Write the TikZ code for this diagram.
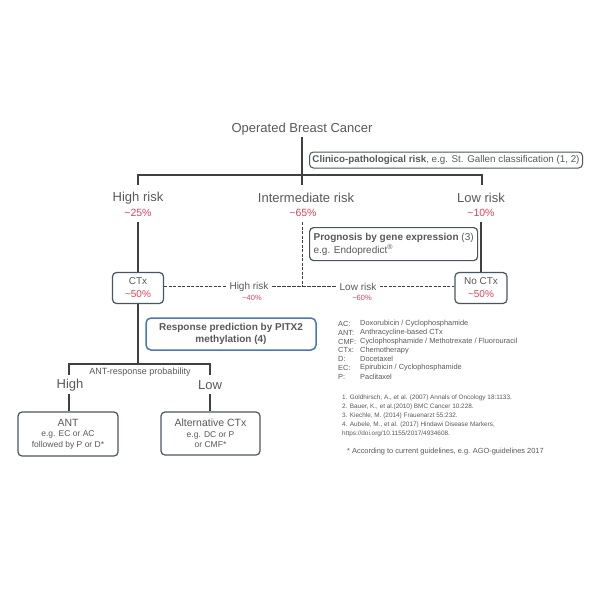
\documentclass[tikz,border=0pt]{standalone}
\usepackage{fontspec}
\setmainfont{Liberation Sans}
\definecolor{txt}{HTML}{595959}
\definecolor{lnc}{HTML}{404040}
\definecolor{bx}{HTML}{4A5560}
\definecolor{bl}{HTML}{4A78B0}
\definecolor{rd}{HTML}{D9455A}
\begin{document}
\begin{tikzpicture}[x=1pt,y=-1pt,
  every node/.style={text=txt,inner sep=0pt},
  ttl/.style={font=\fontsize{13}{15}\selectfont},
  pct/.style={font=\fontsize{10.5}{12}\selectfont,text=rd},
  spct/.style={font=\fontsize{7.5}{9}\selectfont,text=rd},
  mlbl/.style={font=\fontsize{10}{12}\selectfont,inner xsep=3pt},
  ln/.style={draw=lnc,line width=1.2pt},
  dln/.style={draw=lnc,line width=1pt,dash pattern=on 3pt off 1.5pt},
  dlnb/.style={draw=lnc,line width=1.4pt,dash pattern=on 4pt off 1pt},
  rbox/.style={draw=bx,line width=1.2pt,rounded corners=4pt,align=center},
  bbox/.style={draw=bl,line width=1.5pt,rounded corners=5pt,align=center},
  leg/.style={font=\fontsize{7.4}{8.8}\selectfont,anchor=west},
  ref/.style={font=\fontsize{6.4}{9}\selectfont,anchor=west}]
\useasboundingbox[fill=white] (0,0) rectangle (600,600);

% top
\node[ttl] (obc) at (302,129) {Operated Breast Cancer};
\node[rbox,minimum width=273,minimum height=16,font=\fontsize{9.8}{11}\selectfont,anchor=west,line width=1pt] (clin) at (309,160)
  {\textbf{Clinico-pathological risk}, e.g. St. Gallen classification (1, 2)};
\coordinate (t0) at (302,137);
\coordinate (tL) at (138,175);
\coordinate (tR) at (482,175);
\coordinate (dL) at (138,185);
\coordinate (dM) at (302,185);
\coordinate (dR) at (482,185);
\draw[ln] (t0) -- (dM);
\draw[ln] (dL) -- (tL) -- (tR) -- (dR);

% risk groups
\node[ttl] (hr) at (138,198) {High risk};
\node[pct] (p25) at (138,213) {\textasciitilde25\%};
\node[ttl] (ir) at (306,198) {Intermediate risk};
\node[pct] (p65) at (303,213) {\textasciitilde65\%};
\node[ttl] (lr) at (481,198) {Low risk};
\node[pct] (p10) at (481,213) {\textasciitilde10\%};

% boxes ctx / no ctx
\node[rbox,minimum width=51,minimum height=31,font=\fontsize{10}{13}\selectfont] (ctx) at (138,288)
  {CTx\\\textcolor{rd}{\textasciitilde50\%}};
\node[rbox,minimum width=52,minimum height=31,font=\fontsize{10}{13}\selectfont] (noctx) at (481,288)
  {No CTx\\\textcolor{rd}{\textasciitilde50\%}};

\coordinate (hv) at (138,222);
\coordinate (lv) at (481,222);
\coordinate (mv) at (302,222);
\draw[ln] (hv) -- (ctx.north);
\draw[ln] (lv) -- (noctx.north);

% prognosis box
\node[rbox,minimum width=164,minimum height=33,anchor=north west,align=left,inner xsep=4pt,
  font=\fontsize{10}{13}\selectfont] (prog) at (309,227)
  {\textbf{Prognosis by gene expression} (3)\\e.g. Endopredict\textsuperscript{\textregistered}};

% dashed row
\node[mlbl] (hrm) at (249,286.5) {High risk};
\node[spct] (p40) at (252,298) {\textasciitilde40\%};
\node[mlbl] (lrm) at (358,286.5) {Low risk};
\node[spct] (p60) at (362,298) {\textasciitilde60\%};
\coordinate (mj) at (302,286.5);
\draw[dln] (mv) -- (mj);
\draw[dln] (ctx.east |- hrm) -- (hrm.west);
\draw[dlnb] (hrm.east) -- (lrm.west);
\draw[dln] (lrm.east) -- (noctx.west |- lrm);

% response prediction
\node[bbox,minimum width=170,minimum height=32,font=\fontsize{10}{12}\selectfont\bfseries] (resp) at (231,334)
  {Response prediction by PITX2\\methylation (4)};

% ANT response split
\coordinate (a0) at (138,364);
\coordinate (aL) at (69,364);
\coordinate (aR) at (210,364);
\coordinate (aLd) at (69,375);
\coordinate (aRd) at (210,375);
\draw[ln] (ctx.south) -- (a0);
\draw[ln] (aLd) -- (aL) -- (aR) -- (aRd);
\node[font=\fontsize{9}{11}\selectfont] (antp) at (140,372) {ANT-response probability};
\node[ttl] (hi) at (70,385) {High};
\node[ttl] (lo) at (210,385) {Low};

\node[rbox,minimum width=100,minimum height=44,font=\fontsize{8.5}{10.5}\selectfont] (ant) at (68,434)
  {{\fontsize{10.5}{12}\selectfont ANT}\\e.g. EC or AC\\followed by P or D*};
\node[rbox,minimum width=99,minimum height=43,font=\fontsize{8.5}{10.5}\selectfont] (alt) at (210.5,433.5)
  {{\fontsize{10.5}{12}\selectfont Alternative CTx}\\e.g. DC or P\\or CMF*};
\coordinate (hiL) at (69,394);
\coordinate (loL) at (210,394);
\draw[ln] (hiL) -- (ant.north -| hiL);
\draw[ln] (loL) -- (alt.north -| loL);

% legend
\foreach \k/\a/\d in {0/AC:/{Doxorubicin / Cyclophosphamide},
  1/ANT:/{Anthracycline-based CTx},
  2/CMF:/{Cyclophosphamide / Methotrexate / Fluorouracil},
  3/CTx:/{Chemotherapy},
  4/D:/{Docetaxel},
  5/EC:/{Epirubicin / Cyclophosphamide},
  6/P:/{Paclitaxel}}{
  \node[leg] (la\k) at (338,324+8.8*\k) {\a};
  \node[leg] (ld\k) at (360,324+8.8*\k) {\d};
}

% references
\node[ref] (r1) at (342,398) {1. Goldhirsch, A., et al. (2007) Annals of Oncology 18:1133.};
\node[ref] (r2) at (342,407) {2. Bauer, K., et al.(2010) BMC Cancer 10:228.};
\node[ref] (r3) at (342,416) {3. Kiechle, M. (2014) Frauenarzt 55:232.};
\node[ref] (r4) at (342,425) {4. Aubele, M., et al. (2017) Hindawi Disease Markers,};
\node[ref] (r5) at (342,434) {https://doi.org/10.1155/2017/4934608.};
\node[ref,font=\fontsize{7.4}{9}\selectfont] (fn) at (347,452) {* According to current guidelines, e.g. AGO-guidelines 2017};
\end{tikzpicture}
\end{document}
